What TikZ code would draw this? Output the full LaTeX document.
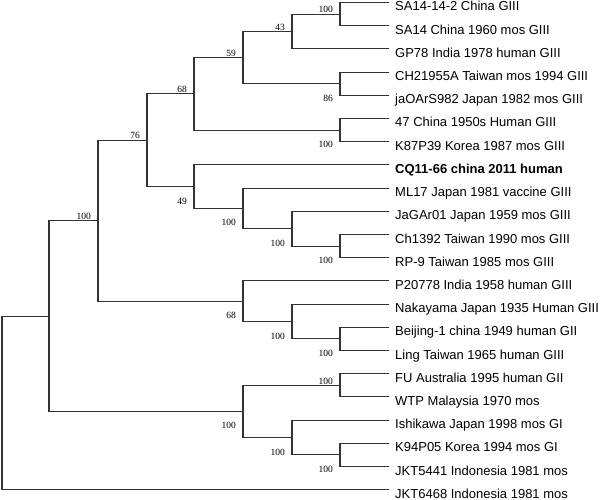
\documentclass[tikz,border=0pt]{standalone}
\usepackage{fontspec}
\setmainfont{Liberation Sans}
\newfontfamily\bootfont{Liberation Serif}
\tikzset{
  branch/.style={line width=1.1pt, black!80},
  taxon/.style={anchor=base west, inner sep=0pt, xshift=6pt, yshift=-8.5pt, font=\fontsize{13}{15}\selectfont},
  boot/.style={inner sep=1pt, font=\bootfont\fontsize{9.5}{11}\selectfont},
  bootup/.style={boot, anchor=south east, xshift=-6pt},
  bootdown/.style={boot, anchor=north east, xshift=-6pt, yshift=-10pt}
}
\begin{document}
\begin{tikzpicture}[x=1pt, y=-1pt]
  \useasboundingbox (0,0) rectangle (600,500);
  \foreach \t [count=\i from 0] in {SA14-14-2 China GIII, SA14 China 1960 mos GIII,
      GP78 India 1978 human GIII, CH21955A Taiwan mos 1994 GIII,
      jaOArS982 Japan 1982 mos GIII, 47 China 1950s Human GIII,
      K87P39 Korea 1987 mos GIII, {\textbf{CQ11-66 china 2011 human}},
      ML17 Japan 1981 vaccine GIII, JaGAr01 Japan 1959 mos GIII,
      Ch1392 Taiwan 1990 mos GIII, RP-9 Taiwan 1985 mos GIII,
      P20778 India 1958 human GIII, Nakayama Japan 1935 Human GIII,
      Beijing-1 china 1949 human GII, Ling Taiwan 1965 human GIII,
      FU Australia 1995 human GII, WTP Malaysia 1970 mos,
      Ishikawa Japan 1998 mos GI, K94P05 Korea 1994 mos GI,
      JKT5441 Indonesia 1981 mos, JKT6468 Indonesia 1981 mos} {
    \pgfmathsetmacro{\y}{2.5+23.2*\i}
    \coordinate (t\i) at (389,\y);
    \node[taxon] (l\i) at (t\i) {\t};
  }
  \coordinate (sa) at (340,14.1);
  \coordinate (b43) at (292,31.5);
  \coordinate (b86) at (340,83.7);
  \coordinate (b59) at (243,57.6);
  \coordinate (kp) at (340,130.1);
  \coordinate (b68) at (194,93.85);
  \coordinate (rp) at (340,246.1);
  \coordinate (ja) at (292,228.7);
  \coordinate (ml) at (243,208.4);
  \coordinate (b49) at (194,186.65);
  \coordinate (b76) at (147,140.25);
  \coordinate (li) at (340,338.9);
  \coordinate (na) at (292,321.5);
  \coordinate (p68) at (243,301.2);
  \coordinate (g3) at (98,220.7);
  \coordinate (fu) at (340,385.3);
  \coordinate (jk) at (340,454.9);
  \coordinate (is) at (292,437.5);
  \coordinate (g1) at (243,411.4);
  \coordinate (top) at (49,316.05);
  \coordinate (root) at (2,402.9);
  \foreach \p/\c in {root/top, root/t21, top/g3, top/g1, g3/b76, g3/p68,
      b76/b68, b76/b49, b68/b59, b68/kp, b59/b43, b59/b86, b43/sa, b43/t2,
      sa/t0, sa/t1, b86/t3, b86/t4, kp/t5, kp/t6, b49/t7, b49/ml,
      ml/t8, ml/ja, ja/t9, ja/rp, rp/t10, rp/t11, p68/t12, p68/na,
      na/t13, na/li, li/t14, li/t15, g1/fu, g1/is, fu/t16, fu/t17,
      is/t18, is/jk, jk/t19, jk/t20}
    \draw[branch] (\p) |- (\c);
  \foreach \n/\v in {g3/100, b76/76, b68/68, b59/59, b43/43, sa/100, fu/100}
    \node[bootup] (v\n) at (\n) {\v};
  \foreach \n/\v in {b86/86, kp/100, b49/49, ml/100, ja/100, rp/100,
      p68/68, na/100, li/100, g1/100, is/100, jk/100}
    \node[bootdown] (v\n) at (\n) {\v};
\end{tikzpicture}
\end{document}
